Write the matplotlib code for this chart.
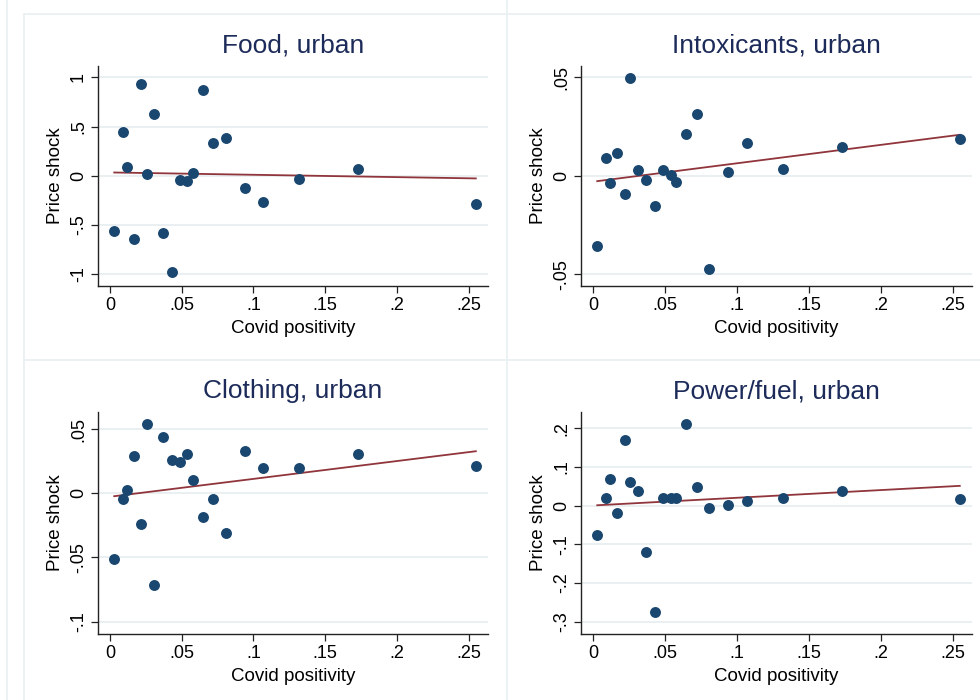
import numpy as np
import matplotlib
matplotlib.use("Agg")
import matplotlib.pyplot as plt
from matplotlib.lines import Line2D

plt.rcParams['font.family'] = ['Liberation Sans', 'DejaVu Sans']

# Covid positivity (shared across panels)
covid = [0.003, 0.009, 0.012, 0.017, 0.022, 0.026, 0.031, 0.037, 0.043, 0.049,
         0.054, 0.058, 0.065, 0.072, 0.081, 0.094, 0.107, 0.132, 0.173, 0.255]

food = [-0.564, 0.443, 0.091, -0.639, 0.929, 0.020, 0.628, -0.581, -0.973, -0.047,
        -0.051, 0.024, 0.868, 0.334, 0.382, -0.125, -0.264, -0.034, 0.068, -0.287]
intox = [-0.0356, 0.0091, -0.0034, 0.0117, -0.0091, 0.0495, 0.0027, -0.0019, -0.0152, 0.0027,
         0.0003, -0.0030, 0.0213, 0.0313, -0.0475, 0.0017, 0.0164, 0.0032, 0.0147, 0.0186]
clothing = [-0.0510, -0.0042, 0.0026, 0.0294, -0.0242, 0.0539, -0.0711, 0.0435, 0.0263, 0.0242,
            0.0307, 0.0104, -0.0185, -0.0042, -0.0307, 0.0328, 0.0193, 0.0193, 0.0307, 0.0211]
power = [-0.077, 0.019, 0.068, -0.020, 0.170, 0.061, 0.037, -0.121, -0.276, 0.019,
         0.019, 0.019, 0.212, 0.048, -0.006, 0.002, 0.013, 0.020, 0.037, 0.016]

# fitted-line (intercept, slope)
fit_food = (0.0347, -0.238)
fit_intox = (-0.0030, 0.0934)
fit_clothing = (-0.0027, 0.139)
fit_power = (0.0003, 0.199)

titles = ["Food, urban", "Intoxicants, urban", "Clothing, urban", "Power/fuel, urban"]

x_ticks = [0, 0.05, 0.1, 0.15, 0.2, 0.25]
x_ticklabels = ["0", ".05", ".1", ".15", ".2", ".25"]

food_ticks = [-1, -0.5, 0, 0.5, 1]
food_labels = ["-1", "-.5", "0", ".5", "1"]
intox_ticks = [-0.05, 0, 0.05]
intox_labels = ["-.05", "0", ".05"]
cloth_ticks = [-0.1, -0.05, 0, 0.05]
cloth_labels = ["-.1", "-.05", "0", ".05"]
power_ticks = [-0.3, -0.2, -0.1, 0, 0.1, 0.2]
power_labels = ["-.3", "-.2", "-.1", "0", ".1", ".2"]

W, H = 980, 700
fig = plt.figure(figsize=(W / 100, H / 100), dpi=100)
fig.patch.set_facecolor('white')

# light frame lines of the combined graph
lc = '#e9f0f1'
fig.add_artist(Line2D([7 / W, 7 / W], [0, 1], color=lc, lw=1.2))
fig.add_artist(Line2D([24 / W, 24 / W], [0, 1 - 14 / H], color=lc, lw=1.2))
fig.add_artist(Line2D([507 / W, 507 / W], [0, 1], color=lc, lw=1.2))
for yv in [14, 360]:
    fig.add_artist(Line2D([24 / W, 1], [1 - yv / H, 1 - yv / H], color=lc, lw=1.2))

def rect(l, r, t, b):
    return [l / W, 1 - b / H, (r - l) / W, (b - t) / H]

panels = [
    (rect(98, 488, 66, 286), food, fit_food, food_ticks, food_labels, (-1.118, 1.115)),
    (rect(581, 972, 66, 286), intox, fit_intox, intox_ticks, intox_labels, (-0.0559, 0.0557)),
    (rect(98, 488, 412, 634), clothing, fit_clothing, cloth_ticks, cloth_labels, (-0.1096, 0.0633)),
    (rect(581, 972, 412, 634), power, fit_power, power_ticks, power_labels, (-0.332, 0.242)),
]

navy = '#1a476f'
maroon = '#90353b'
title_col = '#1c2b59'

for (r, yv, fit, yt, yl, ylim), title in zip(panels, titles):
    ax = fig.add_axes(r)
    ax.set_facecolor('white')
    ax.set_xlim(-0.0083, 0.2635)
    ax.set_ylim(*ylim)
    ax.set_yticks(yt)
    ax.set_yticklabels(yl, rotation=90, va='center')
    ax.set_xticks(x_ticks)
    ax.set_xticklabels(x_ticklabels)
    for yy in yt:
        ax.axhline(yy, color='#e6eef0', lw=1.2, zorder=0)
    ax.spines['top'].set_visible(False)
    ax.spines['right'].set_visible(False)
    for s in ['left', 'bottom']:
        ax.spines[s].set_color('#222222')
        ax.spines[s].set_linewidth(1.0)
    ax.tick_params(direction='out', length=5, width=0.9, color='#222222',
                   labelsize=13, pad=3)
    x = np.array(covid)
    y = np.array(yv)
    ax.scatter(x, y, s=62, color=navy, zorder=3, linewidths=0)
    a, b = fit
    xs = np.array([x.min(), x.max()])
    ax.plot(xs, a + b * xs, color=maroon, lw=1.3, zorder=2)
    ax.set_xlabel("Covid positivity", fontsize=13.5, labelpad=4)
    ax.set_ylabel("Price shock", fontsize=13.5, labelpad=4)
    ax.set_title(title, fontsize=19, color=title_col, pad=10)

fig.savefig("out.png", dpi=100, facecolor='white')
